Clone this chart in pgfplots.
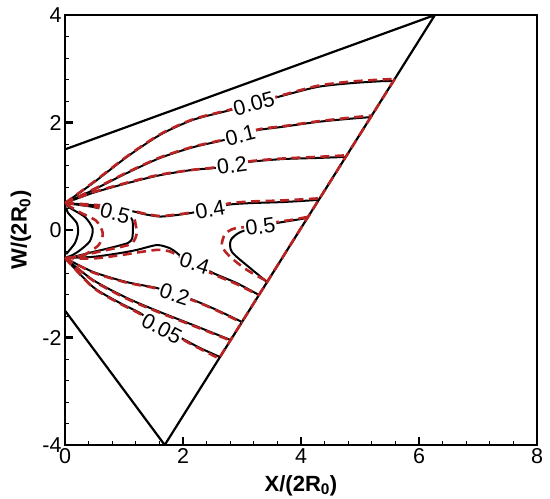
\documentclass[border=0pt]{standalone}
\usepackage{fontspec}
\setmainfont{Liberation Sans}
\usepackage{pgfplots}
\pgfplotsset{compat=1.18}
\definecolor{cred}{RGB}{185,35,35}
\tikzset{
  blk/.style={black, line width=2pt, smooth, tension=0.45},
  rdash/.style={cred, line width=2.6pt, dash pattern=on 9pt off 5.5pt, smooth, tension=0.45},
  clab/.style={fill=white, inner sep=1.3pt, text height=15.5pt, text depth=0pt, font=\fontsize{21.5}{24}\selectfont},
}
\begin{document}
\begin{tikzpicture}
\useasboundingbox (-65pt,-54pt) rectangle (485pt,445pt);
\begin{axis}[
  at={(0,0)}, anchor=south west,
  width=472pt, height=430pt, scale only axis,
  xmin=0, xmax=8, ymin=-4, ymax=4,
  xtick={0,2,4,6,8}, ytick={-4,-2,0,2,4},
  xticklabels={0,2,4,6,8}, yticklabels={-4,-2,0,2,4},
  minor tick num=4,
  tick pos=left, tick align=inside,
  major tick length=8pt, minor tick length=4.5pt,
  every major tick/.style={line width=2.2pt, black},
  every minor tick/.style={line width=0.8pt, black},
  axis line style={line width=2.2pt},
  ticklabel style={font=\fontsize{21.5}{24}\selectfont},
  xlabel={X/(2R\textsubscript{0})},
  ylabel={W/(2R\textsubscript{0})},
  xlabel style={at={([yshift=-30pt]axis description cs:0.5,0)}, anchor=north, inner sep=0pt, font=\bfseries\fontsize{22}{25}\selectfont},
  ylabel style={at={([xshift=-44pt]axis description cs:0,0.5)}, anchor=center, inner sep=0pt, font=\bfseries\fontsize{22}{25}\selectfont},
]
% domain boundary
\addplot[black, line width=2.2pt, mark=none] coordinates {(0,1.5)(6.27,4)(1.69,-4)(0,-1.5)};

% ---------- black contours ----------
\addplot[blk, mark=none] coordinates {(0,0.5)(0.47,0.87)(1.05,1.36)(1.61,1.77)(2.17,2.05)(2.80,2.23)(3.20,2.36)(3.59,2.47)(4.27,2.66)(4.83,2.73)(5.39,2.77)(5.566,2.77)};
\addplot[blk, mark=none] coordinates {(0,0.5)(0.47,0.74)(1.05,1.06)(1.61,1.34)(2.17,1.54)(2.68,1.67)(2.97,1.77)(3.27,1.86)(3.69,1.92)(4.27,2.01)(4.83,2.07)(5.18,2.10)};
\addplot[blk, mark=none] coordinates {(0,0.5)(0.47,0.69)(1.05,0.87)(1.61,1.02)(2.17,1.12)(2.51,1.15)(2.83,1.21)(3.14,1.27)(3.69,1.32)(4.27,1.34)(4.76,1.36)};
\addplot[blk, mark=none] coordinates {(0,0.5)(0.59,0.45)(1.14,0.35)(1.32,0.30)(1.61,0.25)(1.90,0.28)(2.15,0.32)(2.46,0.39)(2.76,0.47)(3.14,0.50)(3.69,0.52)(4.30,0.56)};
\addplot[blk, mark=none] coordinates {(0,0.5)(0.47,0.43)(0.85,0.32)(1.12,0.22)(1.15,0.08)(1.15,0.0)(1.14,-0.15)(1.07,-0.24)(0.76,-0.335)(0.47,-0.41)(0.14,-0.50)(0,-0.52)};
\addplot[blk, mark=none] coordinates {(0.02,0.47)(0.10,0.40)(0.34,0.24)(0.47,0.02)(0.42,-0.21)(0.25,-0.38)(0.12,-0.47)(0.02,-0.51)};
\addplot[blk, mark=none] coordinates {(0.02,0.42)(0.05,0.32)(0.20,0.13)(0.22,-0.06)(0.17,-0.24)(0.08,-0.37)(0.02,-0.45)};
\addplot[blk, mark=none] coordinates {(3.426,-0.967)(3.14,-0.71)(2.83,-0.41)(2.81,-0.19)(2.97,-0.04)(3.31,0.07)(3.59,0.13)(3.81,0.17)(4.108,0.223)};
\addplot[blk, mark=none] coordinates {(0,-0.52)(0.47,-0.50)(0.93,-0.43)(1.22,-0.37)(1.56,-0.28)(1.78,-0.34)(1.90,-0.43)(1.98,-0.50)(2.20,-0.61)(2.51,-0.80)(2.915,-0.99)(3.288,-1.209)};
\addplot[blk, mark=none] coordinates {(0,-0.52)(0.475,-0.78)(1.05,-0.97)(1.56,-1.08)(1.86,-1.19)(2.17,-1.30)(2.576,-1.49)(3.00,-1.712)};
\addplot[blk, mark=none] coordinates {(0,-0.52)(0.475,-0.93)(1.05,-1.265)(1.61,-1.526)(2.17,-1.767)(2.746,-2.02)(2.808,-2.047)};
\addplot[blk, mark=none] coordinates {(0,-0.52)(0.475,-1.06)(0.932,-1.358)(1.27,-1.544)(1.644,-1.823)(2.034,-2.047)(2.288,-2.195)(2.627,-2.363)};

% ---------- red dashed contours ----------
\addplot[rdash, mark=none] coordinates {(0,0.5)(0.47,0.88)(1.05,1.37)(1.61,1.78)(2.17,2.06)(2.80,2.24)(3.59,2.48)(4.27,2.68)(4.83,2.76)(5.39,2.80)(5.59,2.81)};
\addplot[rdash, mark=none] coordinates {(0,0.5)(0.47,0.75)(1.05,1.07)(1.61,1.35)(2.17,1.55)(2.68,1.68)(3.27,1.87)(3.69,1.93)(4.27,2.02)(4.83,2.09)(5.21,2.13)};
\addplot[rdash, mark=none] coordinates {(0,0.5)(0.47,0.70)(1.05,0.88)(1.61,1.03)(2.17,1.12)(2.51,1.16)(3.14,1.28)(3.69,1.33)(4.27,1.36)(4.78,1.39)};
\addplot[rdash, mark=none] coordinates {(0,0.5)(0.59,0.46)(1.14,0.36)(1.32,0.31)(1.61,0.26)(1.90,0.29)(2.15,0.33)(2.76,0.49)(3.14,0.53)(3.69,0.55)(4.32,0.59)};
\addplot[rdash, mark=none] coordinates {(0,0.5)(0.47,0.44)(0.85,0.33)(1.15,0.24)(1.20,0.08)(1.22,-0.05)(1.18,-0.18)(1.10,-0.27)(0.76,-0.36)(0.47,-0.43)(0.14,-0.51)(0,-0.52)};
\addplot[rdash, mark=none] coordinates {(0.02,0.48)(0.25,0.33)(0.53,0.17)(0.64,-0.06)(0.57,-0.28)(0.31,-0.47)(0.02,-0.52)};
\addplot[rdash, mark=none] coordinates {(3.40,-0.94)(3.08,-0.74)(2.80,-0.50)(2.66,-0.30)(2.71,-0.08)(2.88,0.03)(3.31,0.08)(3.60,0.15)(3.85,0.19)(4.12,0.245)};
\addplot[rdash, mark=none] coordinates {(0,-0.52)(0.47,-0.53)(0.93,-0.47)(1.22,-0.42)(1.56,-0.37)(1.78,-0.40)(1.98,-0.52)(2.51,-0.82)(2.915,-1.01)(3.30,-1.22)};
\addplot[rdash, mark=none] coordinates {(0,-0.52)(0.475,-0.79)(1.05,-0.98)(1.56,-1.09)(2.17,-1.31)(2.576,-1.50)(3.01,-1.73)};
\addplot[rdash, mark=none] coordinates {(0,-0.52)(0.475,-0.94)(1.05,-1.28)(1.61,-1.54)(2.17,-1.78)(2.746,-2.03)(2.82,-2.06)};
\addplot[rdash, mark=none] coordinates {(0,-0.52)(0.475,-1.07)(0.932,-1.37)(1.27,-1.56)(2.034,-2.06)(2.288,-2.21)(2.61,-2.39)};
\addplot[cred, line width=2.6pt, dash pattern=on 9pt off 5.5pt, mark=none] coordinates {(5.59,2.81)(2.61,-2.39)};

% ---------- contour labels ----------
\node[clab, rotate=15] at (axis cs:3.20,2.36) {0.05};
\node[clab, rotate=14] at (axis cs:2.97,1.77) {0.1};
\node[clab, rotate=8]  at (axis cs:2.83,1.21) {0.2};
\node[clab, rotate=10] at (axis cs:2.46,0.39) {0.4};
\node[clab, rotate=-14] at (axis cs:0.85,0.32) {0.5};
\node[clab, rotate=8]  at (axis cs:3.31,0.07) {0.5};
\node[clab, rotate=-18] at (axis cs:2.20,-0.61) {0.4};
\node[clab, rotate=-18] at (axis cs:1.86,-1.19) {0.2};
\node[clab, rotate=-28] at (axis cs:1.644,-1.823) {0.05};
\end{axis}
\end{tikzpicture}
\end{document}
